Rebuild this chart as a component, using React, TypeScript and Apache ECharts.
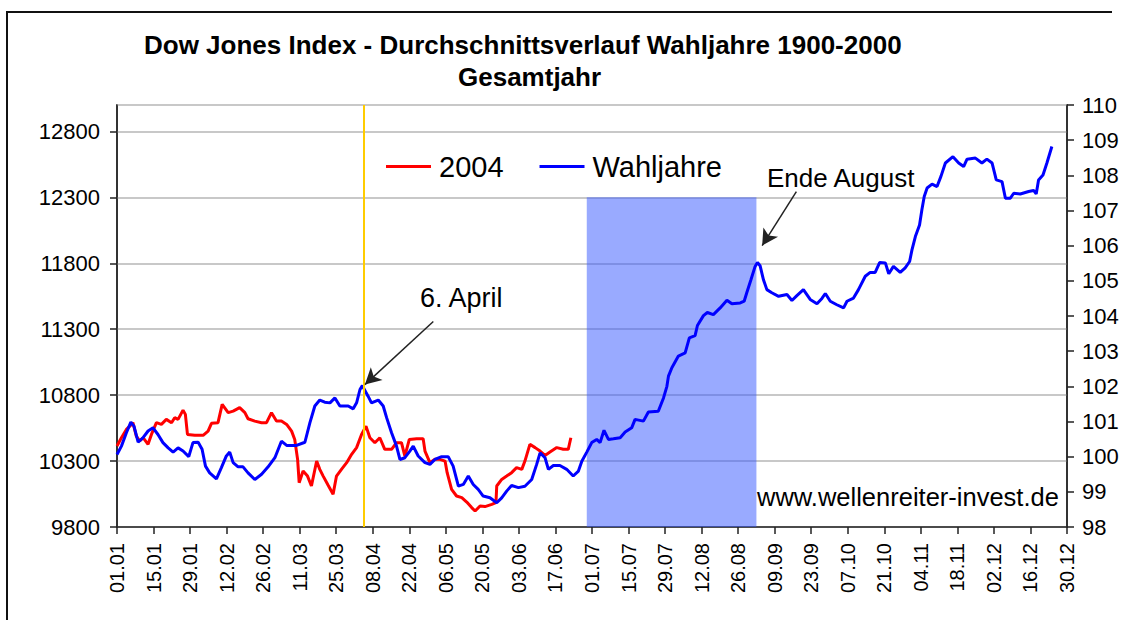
import React, { useEffect, useRef } from "react";
import * as echarts from "echarts";

const titleLines = ["Dow Jones Index - Durchschnittsverlauf Wahljahre 1900-2000", "Gesamtjahr"];
const seriesNames = ["2004", "Wahljahre"];
const tickLabels = [
  "01.01", "15.01", "29.01", "12.02", "26.02", "11.03", "25.03", "08.04", "22.04",
  "06.05", "20.05", "03.06", "17.06", "01.07", "15.07", "29.07", "12.08", "26.08",
  "09.09", "23.09", "07.10", "21.10", "04.11", "18.11", "02.12", "16.12", "30.12",
];

// day of year (0 = 01.01) and values
const redDays = [
  0, 1.7, 3.6, 4.9, 6.1, 7.4, 8.7, 10.0, 11.9, 13.2, 15.1, 17.0, 18.9, 20.9, 22.1, 23.4, 25.3, 26.2, 27.0,
  29.8, 33.0, 34.9, 36.2, 38.7, 40.3, 42.6, 44.5, 47.0, 49.0, 50.2, 52.8, 55.4, 57.3, 59.2, 61.1, 63.0,
  65.0, 66.9, 68.1, 69.2, 69.8, 71.3, 73.0, 74.5, 76.5, 77.7, 79.0, 80.9, 82.8, 84.1, 86.0, 88.0, 89.9,
  91.8, 93.7, 95.4, 96.9, 98.8, 100.7, 102.6, 105.2, 107.1, 109.0, 110.3, 112.0, 114.8, 117.3, 118.0,
  119.9, 121.8, 123.7, 125.7, 126.5, 128.2, 130.1, 132.1, 134.0, 135.9, 137.2, 139.1, 141.0, 143.6,
  145.2, 145.5, 147.4, 149.3, 151.2, 153.1, 155.1, 156.3, 158.2, 160.2, 162.1, 164.0, 165.9, 168.5,
  171.0, 172.9, 173.9,
];
const redValues = [
  10414, 10477, 10540, 10565, 10591, 10489, 10452, 10477, 10427, 10502, 10591, 10578, 10616, 10591, 10629,
  10616, 10686, 10654, 10502, 10495, 10495, 10527, 10586, 10591, 10730, 10667, 10679, 10705, 10667, 10621,
  10603, 10591, 10591, 10667, 10603, 10603, 10578, 10527, 10464, 10313, 10136, 10224, 10186, 10111, 10300,
  10237, 10186, 10116, 10048, 10186, 10237, 10288, 10351, 10402, 10502, 10565, 10477, 10439, 10477, 10389,
  10389, 10439, 10439, 10338, 10464, 10470, 10470, 10376, 10288, 10313, 10313, 10300, 10212, 10086, 10035,
  10023, 9989, 9947, 9921, 9959, 9955, 9972, 9985, 10111, 10161, 10186, 10212, 10250, 10237, 10300, 10427,
  10402, 10376, 10343, 10368, 10402, 10389, 10389, 10477,
];

const blueDays = [
  0, 1.7, 3.6, 5.3, 6.5, 8.1, 10.0, 11.9, 13.8, 15.7, 17.6, 19.6, 21.5, 23.4, 25.3, 27.5, 29.1, 31.1, 32.6,
  33.9, 35.5, 38.1, 40.0, 41.9, 43.2, 44.5, 46.4, 48.3, 50.2, 52.8, 55.4, 57.9, 60.5, 63.0, 65.0, 68.8,
  72.0, 73.9, 75.8, 77.7, 79.6, 81.6, 83.5, 85.4, 88.6, 90.5, 91.8, 93.1, 94.0, 96.2, 97.5, 100.1, 102.0,
  103.3, 105.2, 107.1, 108.4, 110.3, 112.2, 113.5, 115.4, 118.0, 119.9, 121.8, 124.4, 126.9, 128.8, 130.8,
  132.7, 134.6, 136.5, 138.4, 140.3, 142.9, 145.5, 147.4, 149.3, 151.2, 153.8, 156.3, 158.9, 160.8, 162.1,
  164.0, 165.3, 167.2, 169.7, 172.3, 174.8, 176.8, 178.1, 180.0, 181.9, 183.8, 185.1, 186.6, 188.3, 190.2,
  192.8, 194.7, 197.2, 198.5, 201.7, 203.6, 207.4, 209.4, 210.7, 211.3, 212.6, 215.1, 217.7, 219.3, 221.5,
  222.4, 224.7, 226.2, 228.5, 231.1, 233.7, 235.6, 238.8, 240.3, 241.3, 242.9, 244.5, 245.4, 246.4, 247.7,
  249.0, 250.9, 253.5, 256.7, 258.6, 260.5, 263.0, 265.6, 268.2, 270.1, 271.4, 273.3, 275.8, 278.4, 279.7,
  282.2, 284.1, 286.7, 288.6, 290.5, 292.2, 294.4, 295.7, 297.5, 300.1, 302.0, 303.7, 304.6, 305.9, 307.5,
  308.4, 309.3, 310.4, 312.3, 314.2, 315.7, 317.4, 320.3, 322.5, 324.4, 325.7, 328.9, 331.4, 333.3, 335.3,
  336.9, 339.1, 340.4, 342.3, 343.6, 346.1, 349.3, 351.2, 352.2, 353.1, 354.8, 356.3, 358.2,
];
const blueValues = [
  100.06, 100.3, 100.68, 100.98, 100.87, 100.41, 100.54, 100.73, 100.82, 100.63, 100.4, 100.25, 100.13,
  100.25, 100.16, 100.0, 100.4, 100.41, 100.21, 99.73, 99.54, 99.37, 99.69, 100.02, 100.13, 99.83, 99.71,
  99.71, 99.54, 99.35, 99.5, 99.71, 99.97, 100.44, 100.32, 100.32, 100.41, 100.96, 101.44, 101.61, 101.55,
  101.53, 101.67, 101.44, 101.44, 101.36, 101.53, 101.91, 102.02, 101.72, 101.53, 101.61, 101.44, 101.11,
  100.68, 100.3, 99.92, 99.97, 100.16, 100.3, 100.02, 99.83, 99.78, 99.92, 100.0, 100.0, 99.73, 99.16,
  99.21, 99.45, 99.21, 99.07, 98.88, 98.83, 98.69, 98.83, 99.02, 99.18, 99.12, 99.16, 99.35, 99.78, 100.11,
  99.97, 99.64, 99.75, 99.75, 99.64, 99.45, 99.59, 99.87, 100.13, 100.4, 100.49, 100.4, 100.75, 100.49,
  100.51, 100.54, 100.7, 100.82, 101.06, 101.01, 101.27, 101.29, 101.67, 102.0, 102.29, 102.53, 102.86,
  102.95, 103.38, 103.44, 103.73, 104.01, 104.1, 104.04, 104.23, 104.45, 104.35, 104.37, 104.42, 104.66,
  105.03, 105.41, 105.52, 105.43, 105.03, 104.75, 104.66, 104.56, 104.61, 104.44, 104.58, 104.75, 104.47,
  104.35, 104.5, 104.64, 104.42, 104.32, 104.23, 104.42, 104.51, 104.75, 105.13, 105.24, 105.24, 105.52,
  105.51, 105.2, 105.41, 105.24, 105.37, 105.55, 105.88, 106.26, 106.59, 107.02, 107.4, 107.64, 107.75,
  107.68, 107.97, 108.35, 108.53, 108.35, 108.25, 108.46, 108.49, 108.35, 108.46, 108.35, 107.87, 107.82,
  107.35, 107.35, 107.49, 107.47, 107.54, 107.57, 107.47, 107.87, 108.01, 108.35, 108.82,
];

// annotation anchors (day, left-axis value)
const aprilDay = 94.5;
const bandDays = [180, 245];
const bandValues = [9800, 12300];
const arrowApril = [[121.2, 11358], [95.0, 10880]];
const arrowAugust = [[260.3, 12343], [247.2, 11934]];

const FONT = "Liberation Sans";

export default function App() {
  const ref = useRef<HTMLDivElement>(null);
  useEffect(() => {
    const chart = echarts.init(ref.current!, null, { renderer: "svg" });
    chart.setOption({
      animation: false,
      backgroundColor: "#ffffff",
      textStyle: { fontFamily: FONT, color: "#000" },
      title: [
        {
          text: titleLines[0],
          left: 139,
          top: 27,
          textStyle: { fontSize: 26, fontWeight: "bold", color: "#000", fontFamily: FONT },
        },
        {
          text: titleLines[1],
          left: 453,
          top: 59,
          textStyle: { fontSize: 26, fontWeight: "bold", color: "#000", fontFamily: FONT },
        },
      ],
      legend: {
        data: seriesNames.map((n) => ({ name: n, icon: "rect" })),
        left: 381,
        top: 147,
        itemWidth: 45,
        itemHeight: 3,
        itemGap: 36,
        textStyle: { fontSize: 29, color: "#000", fontFamily: FONT, padding: [0, 0, 0, 3] },
      },
      grid: {
        left: 117,
        right: 58,
        top: 105,
        bottom: 93,
        show: true,
        borderColor: "#333",
        borderWidth: 1.5,
        backgroundColor: "transparent",
      },
      xAxis: {
        type: "value",
        min: 0,
        max: 364,
        interval: 14,
        axisLine: { show: true, onZero: false, lineStyle: { color: "#222", width: 1.5 } },
        axisTick: { show: true, length: 7, lineStyle: { color: "#222", width: 1.5 } },
        axisLabel: {
          rotate: 90,
          fontSize: 20,
          color: "#000",
          margin: 16,
          formatter: (v: number) => tickLabels[Math.round(v / 14)] ?? "",
        },
        splitLine: { show: false },
      },
      yAxis: [
        {
          type: "value",
          min: 9800,
          max: 13000,
          interval: 500,
          position: "left",
          axisLine: { show: true, lineStyle: { color: "#222", width: 1.5 } },
          axisTick: { show: true, length: 7, lineStyle: { color: "#222", width: 1.5 } },
          axisLabel: {
            fontSize: 22,
            color: "#000",
            margin: 17,
            showMaxLabel: false,
            formatter: (v: number) => String(v),
          },
          splitLine: { show: true, lineStyle: { color: "#c8c8c8", width: 2 } },
        },
        {
          type: "value",
          min: 98,
          max: 110,
          interval: 1,
          position: "right",
          axisLine: { show: true, lineStyle: { color: "#222", width: 1.5 } },
          axisTick: { show: true, length: 7, lineStyle: { color: "#222", width: 1.5 } },
          axisLabel: { fontSize: 22, color: "#000", margin: 15, formatter: (v: number) => String(v) },
          splitLine: { show: false },
        },
      ],
      series: [
        {
          name: "_band",
          type: "line",
          yAxisIndex: 0,
          data: [],
          z: 1,
          markArea: {
            silent: true,
            itemStyle: { color: "rgba(51,85,255,0.5)" },
            data: [[{ xAxis: bandDays[0], yAxis: bandValues[0] }, { xAxis: bandDays[1], yAxis: bandValues[1] }]],
          },
          markLine: {
            silent: true,
            symbol: "none",
            label: { show: false },
            lineStyle: { color: "#ffcc00", width: 2, type: "solid" },
            data: [{ xAxis: aprilDay }],
          },
        },
        {
          name: seriesNames[0],
          type: "line",
          yAxisIndex: 0,
          data: redDays.map((d, i) => [d, redValues[i]]),
          symbol: "none",
          showSymbol: false,
          lineStyle: { color: "#ff0000", width: 3 },
          itemStyle: { color: "#ff0000" },
          z: 3,
        },
        {
          name: seriesNames[1],
          type: "line",
          yAxisIndex: 1,
          data: blueDays.map((d, i) => [d, blueValues[i]]),
          symbol: "none",
          showSymbol: false,
          lineStyle: { color: "#0000ff", width: 3 },
          itemStyle: { color: "#0000ff" },
          z: 4,
        },
        {
          name: "_arrows",
          type: "line",
          yAxisIndex: 0,
          data: [],
          z: 5,
          markLine: {
            silent: true,
            symbol: ["none", "arrow"],
            symbolSize: [13, 16],
            label: { show: false },
            lineStyle: { color: "#222", width: 1.5, type: "solid" },
            data: [
              [{ coord: arrowApril[0] }, { coord: arrowApril[1] }],
              [{ coord: arrowAugust[0] }, { coord: arrowAugust[1] }],
            ],
          },
        },
      ],
      graphic: [
        {
          type: "polyline",
          shape: { points: [[7, 620], [7, 12], [1112, 12]] },
          style: { stroke: "#111", lineWidth: 2, fill: null },
        },
        {
          type: "text",
          x: 420,
          y: 298,
          z: 10,
          style: { text: "6. April", fontSize: 27, fontFamily: FONT, fill: "#000", verticalAlign: "middle" },
        },
        {
          type: "text",
          x: 767,
          y: 178,
          z: 10,
          style: { text: "Ende August", fontSize: 26, fontFamily: FONT, fill: "#000", verticalAlign: "middle" },
        },
        {
          type: "text",
          x: 757,
          y: 497,
          z: 10,
          style: {
            text: "www.wellenreiter-invest.de",
            fontSize: 25.5,
            fontFamily: FONT,
            fill: "#000",
            verticalAlign: "middle",
          },
        },
      ],
    });
    return () => chart.dispose();
  }, []);
  return <div ref={ref} style={{ position: "absolute", left: 0, top: 0, width: 1125, height: 620 }} />;
}
